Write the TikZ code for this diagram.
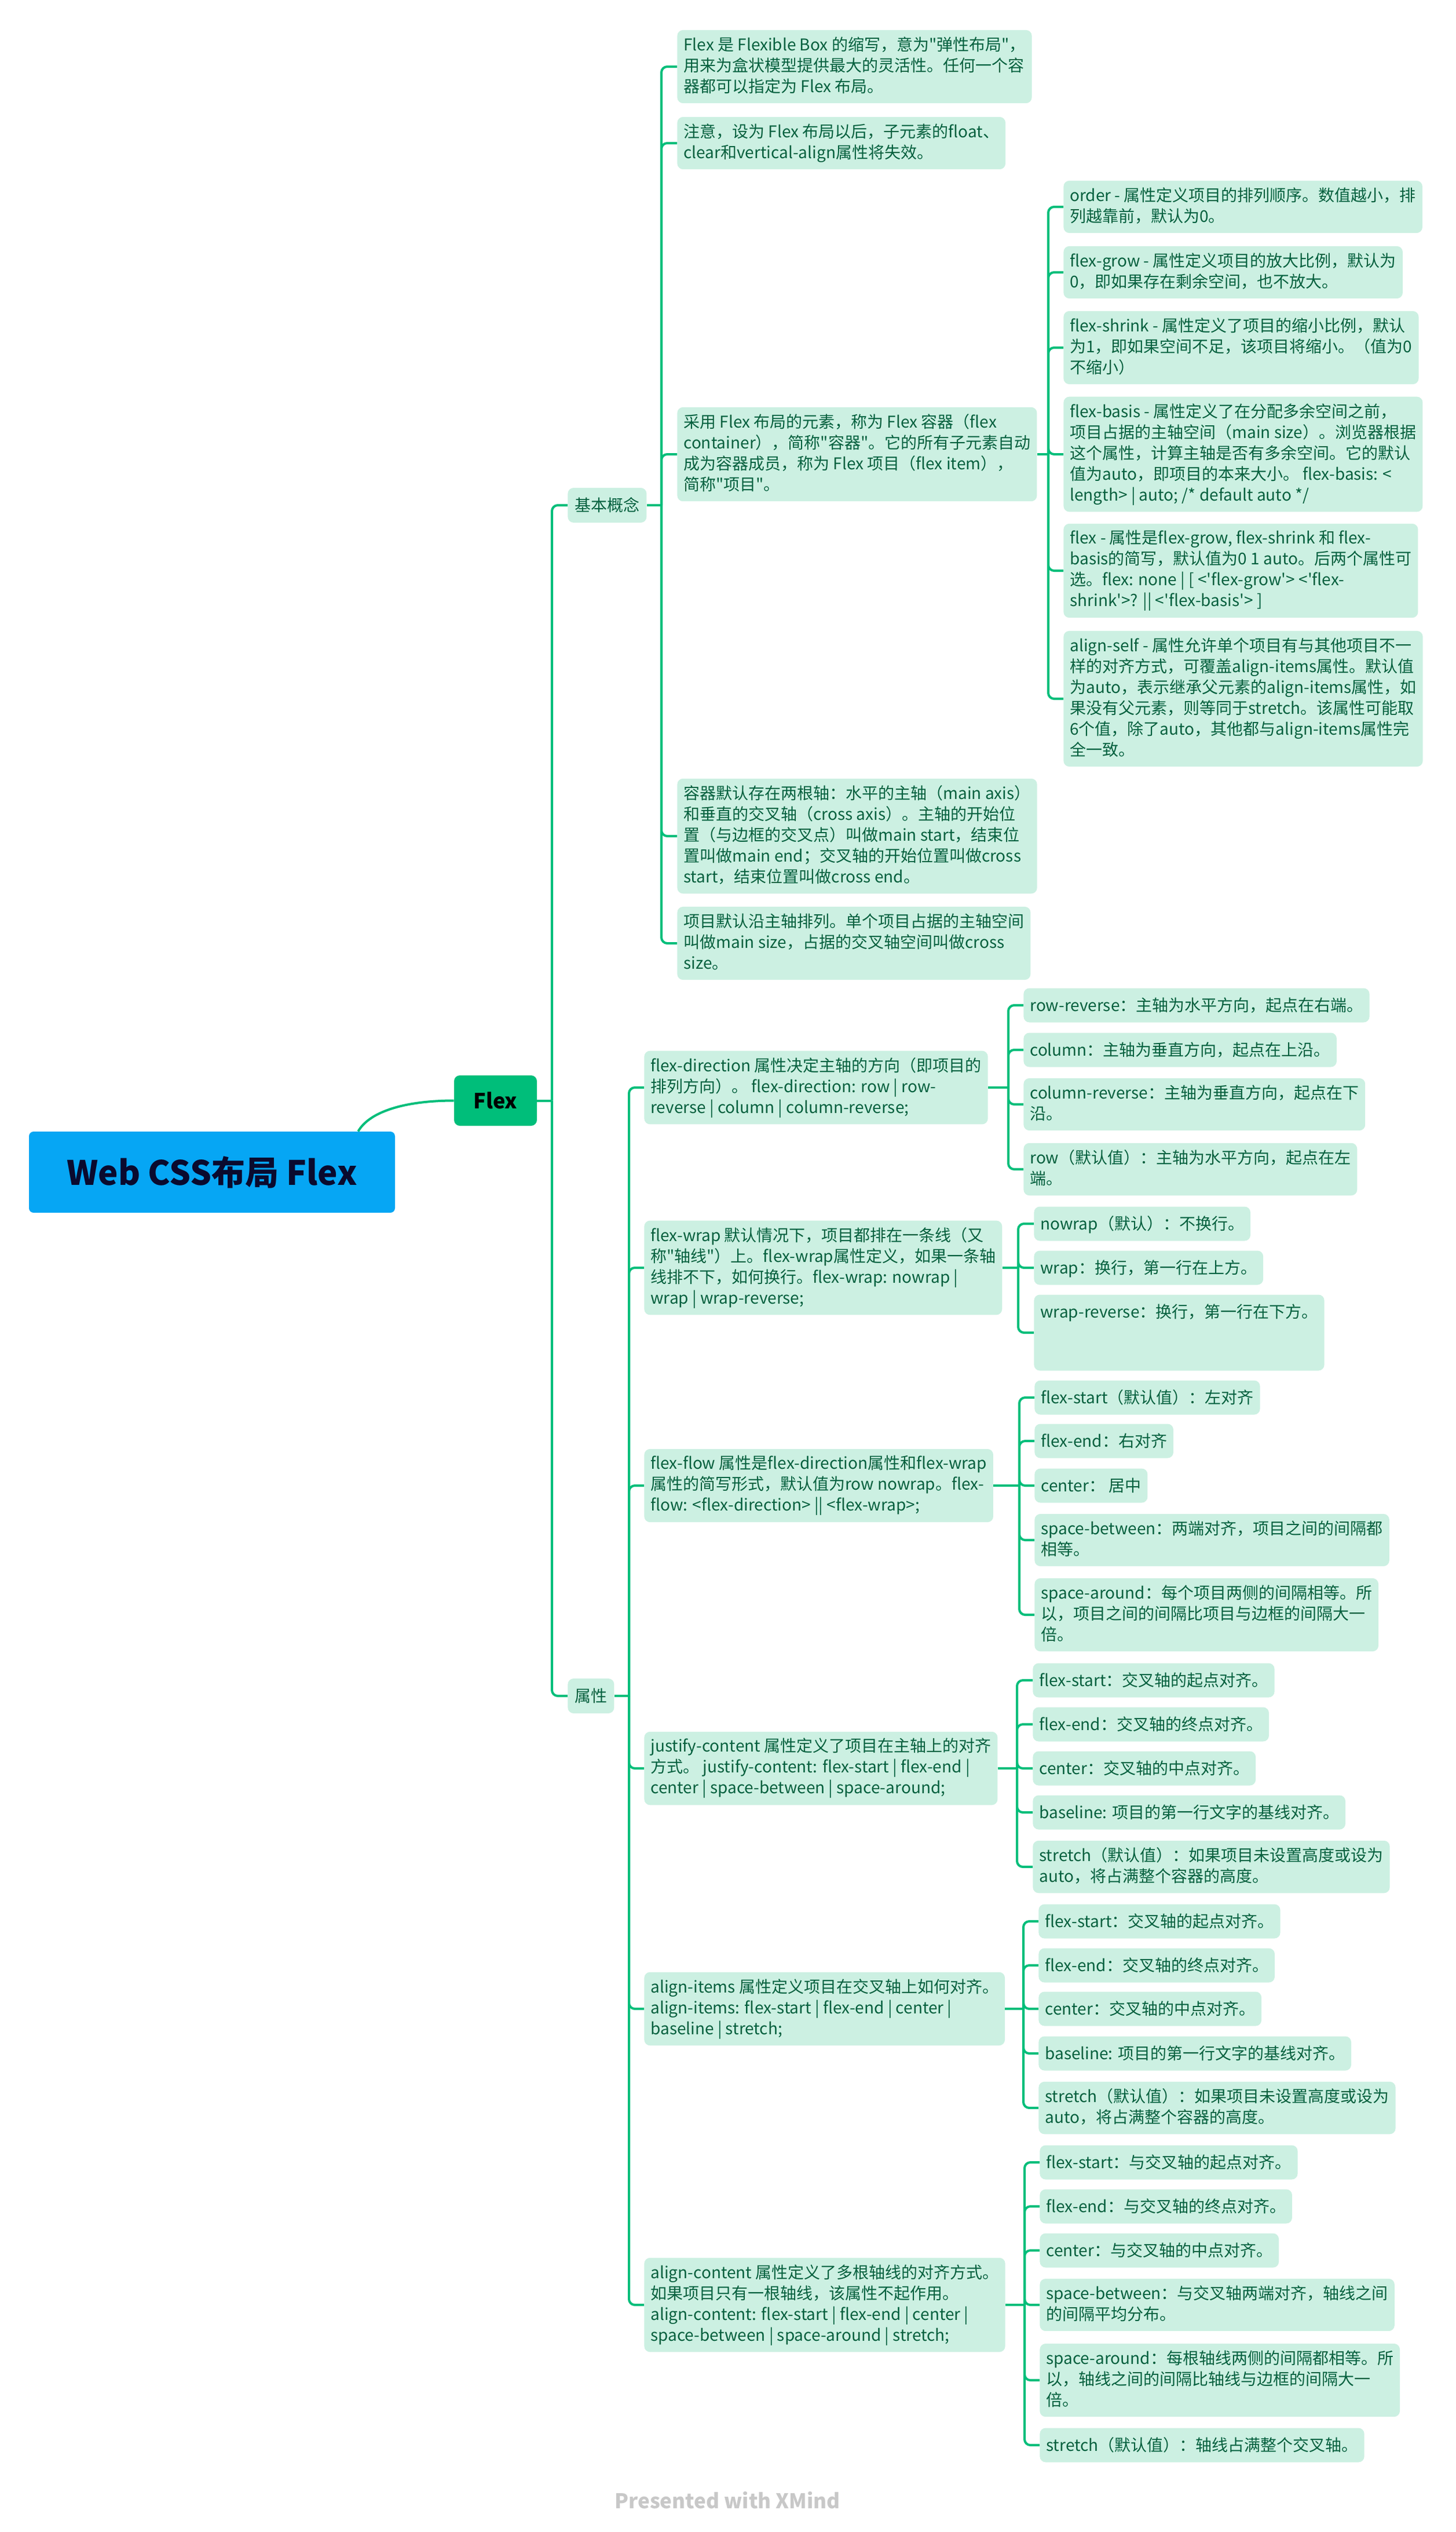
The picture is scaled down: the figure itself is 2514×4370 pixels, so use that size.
\documentclass[tikz,border=0pt]{standalone}
\usepackage{fontspec}
\setmainfont{Noto Sans CJK SC}[Ligatures=TeXOff]

\definecolor{linkgreen}{HTML}{00BE7A}
\definecolor{leaffill}{HTML}{CCF0E2}
\definecolor{leaftext}{HTML}{05603E}
\definecolor{rootblue}{HTML}{06A6F4}
\definecolor{roottext}{HTML}{0A0A2E}
\definecolor{footgray}{HTML}{C8C8C8}

\newcommand{\lstrut}{\rule[-3.75pt]{0pt}{18pt}}

\begin{document}
\begin{tikzpicture}[x=0.5pt, y=-0.5pt,
    link/.style={draw=linkgreen, line width=2pt},
    elbow/.style={link, rounded corners=5pt},
    leaf/.style={fill=leaffill, text=leaftext, rounded corners=5pt, anchor=west, align=left,
        inner xsep=5.5pt, inner ysep=5.75pt, font=\fontsize{14pt}{18pt}\selectfont,
        execute at begin node=\lstrut, execute at end node=\lstrut},
    topic/.style={leaf, inner xsep=6pt, inner ysep=6pt},
]
\useasboundingbox (0,0) rectangle (2514,4370);
\fill[white] (0,0) rectangle (2514,4370);

% Central topic
\node[fill=rootblue, text=roottext, rounded corners=4pt, minimum width=316pt, minimum height=70pt,
    font=\fontsize{29pt}{34pt}\selectfont\bfseries] (root) at (366,2023) {Web CSS布局 Flex};
\node[fill=linkgreen, text=black, rounded corners=5pt, minimum width=71.5pt, minimum height=43.5pt,
    font=\fontsize{18pt}{22pt}\selectfont\bfseries] (flex) at (855.5,1899.5) {Flex};
\node[topic] (basic) at (980,872) {基本概念};
\node[topic] (attr) at (980,2927) {属性};

% Basic concepts
\node[leaf] (intro) at (1169,115) {Flex 是 Flexible Box 的缩写，意为"弹性布局"，\\用来为盒状模型提供最大的灵活性。任何一个容\\器都可以指定为 Flex 布局。};
\node[leaf] (notice) at (1169,247) {注意，设为 Flex 布局以后，子元素的float、\\clear和vertical-align属性将失效。};
\node[leaf] (container) at (1169,784) {采用 Flex 布局的元素，称为 Flex 容器（flex\\container），简称"容器"。它的所有子元素自动\\成为容器成员，称为 Flex 项目（flex item），\\简称"项目"。};
\node[leaf] (axes) at (1169,1443) {容器默认存在两根轴：水平的主轴（main axis）\\和垂直的交叉轴（cross axis）。主轴的开始位\\置（与边框的交叉点）叫做main start，结束位\\置叫做main end；交叉轴的开始位置叫做cross\\start，结束位置叫做cross end。};
\node[leaf] (mainsize) at (1169,1628) {项目默认沿主轴排列。单个项目占据的主轴空间\\叫做main size，占据的交叉轴空间叫做cross\\size。};

% Item properties
\node[leaf] (order) at (1836,357) {order - 属性定义项目的排列顺序。数值越小，排\\列越靠前，默认为0。};
\node[leaf] (grow) at (1836,470) {flex-grow - 属性定义项目的放大比例，默认为\\0，即如果存在剩余空间，也不放大。};
\node[leaf] (shrink) at (1836,600) {flex-shrink - 属性定义了项目的缩小比例，默认\\为1，即如果空间不足，该项目将缩小。（值为0\\不缩小）};
\node[leaf] (basis) at (1836,784) {flex-basis - 属性定义了在分配多余空间之前，\\项目占据的主轴空间（main size）。浏览器根据\\这个属性，计算主轴是否有多余空间。它的默认\\值为auto，即项目的本来大小。 flex-basis: <\\length> | auto; /* default auto */};
\node[leaf] (flexs) at (1836,985) {flex - 属性是flex-grow, flex-shrink 和 flex-\\basis的简写，默认值为0 1 auto。后两个属性可\\选。flex: none | [ <'flex-grow'> <'flex-\\shrink'>? || <'flex-basis'> ]};
\node[leaf] (alignself) at (1836,1206) {align-self - 属性允许单个项目有与其他项目不一\\样的对齐方式，可覆盖align-items属性。默认值\\为auto，表示继承父元素的align-items属性，如\\果没有父元素，则等同于stretch。该属性可能取\\6个值，除了auto，其他都与align-items属性完\\全一致。};

% Container properties
\node[leaf] (direction) at (1112,1877) {flex-direction 属性决定主轴的方向（即项目的\\排列方向）。 flex-direction: row | row-\\reverse | column | column-reverse;};
\node[leaf] (wrapping) at (1112,2188) {flex-wrap 默认情况下，项目都排在一条线（又\\称"轴线"）上。flex-wrap属性定义，如果一条轴\\线排不下，如何换行。flex-wrap: nowrap |\\wrap | wrap-reverse;};
\node[leaf] (flow) at (1112,2564) {flex-flow 属性是flex-direction属性和flex-wrap\\属性的简写形式，默认值为row nowrap。flex-\\flow: <flex-direction> || <flex-wrap>;};
\node[leaf] (justify) at (1112,3052) {justify-content 属性定义了项目在主轴上的对齐\\方式。 justify-content: flex-start | flex-end |\\center | space-between | space-around;};
\node[leaf] (items) at (1112,3467) {align-items 属性定义项目在交叉轴上如何对齐。\\align-items: flex-start | flex-end | center |\\baseline | stretch;};
\node[leaf] (content) at (1112,3978) {align-content 属性定义了多根轴线的对齐方式。\\如果项目只有一根轴线，该属性不起作用。\\align-content: flex-start | flex-end | center |\\space-between | space-around | stretch;};

% flex-direction values
\node[leaf] (rowrev) at (1767,1735) {row-reverse：主轴为水平方向，起点在右端。};
\node[leaf] (column) at (1767,1812) {column：主轴为垂直方向，起点在上沿。};
\node[leaf] (colrev) at (1767,1906) {column-reverse：主轴为垂直方向，起点在下\\沿。};
\node[leaf] (row) at (1767,2018) {row（默认值）：主轴为水平方向，起点在左\\端。};

% flex-wrap values
\node[leaf] (nowrap) at (1785,2112) {nowrap（默认）：不换行。};
\node[leaf] (wrapv) at (1785,2188) {wrap：换行，第一行在上方。};
\node[leaf, text depth=39.75pt] (wraprev) at (1785,2300) {wrap-reverse：换行，第一行在下方。};

% justify-content values (flex-flow)
\node[leaf] (flowA) at (1786,2412) {flex-start（默认值）：左对齐};
\node[leaf] (flowB) at (1786,2487) {flex-end：右对齐};
\node[leaf] (flowC) at (1786,2564) {center： 居中};
\node[leaf] (flowD) at (1786,2658) {space-between：两端对齐，项目之间的间隔都\\相等。};
\node[leaf] (flowE) at (1786,2787) {space-around：每个项目两侧的间隔相等。所\\以，项目之间的间隔比项目与边框的间隔大一\\倍。};

% justify-content values
\node[leaf] (jcA) at (1783,2900) {flex-start：交叉轴的起点对齐。};
\node[leaf] (jcB) at (1783,2976) {flex-end：交叉轴的终点对齐。};
\node[leaf] (jcC) at (1783,3052) {center：交叉轴的中点对齐。};
\node[leaf] (jcD) at (1783,3128) {baseline: 项目的第一行文字的基线对齐。};
\node[leaf] (jcE) at (1783,3222) {stretch（默认值）：如果项目未设置高度或设为\\auto，将占满整个容器的高度。};

% align-items values
\node[leaf] (aiA) at (1793,3316) {flex-start：交叉轴的起点对齐。};
\node[leaf] (aiB) at (1793,3392) {flex-end：交叉轴的终点对齐。};
\node[leaf] (aiC) at (1793,3467) {center：交叉轴的中点对齐。};
\node[leaf] (aiD) at (1793,3544) {baseline: 项目的第一行文字的基线对齐。};
\node[leaf] (aiE) at (1793,3638) {stretch（默认值）：如果项目未设置高度或设为\\auto，将占满整个容器的高度。};

% align-content values
\node[leaf] (acA) at (1795,3732) {flex-start：与交叉轴的起点对齐。};
\node[leaf] (acB) at (1795,3808) {flex-end：与交叉轴的终点对齐。};
\node[leaf] (acC) at (1795,3884) {center：与交叉轴的中点对齐。};
\node[leaf] (acD) at (1795,3978) {space-between：与交叉轴两端对齐，轴线之间\\的间隔平均分布。};
\node[leaf] (acE) at (1795,4108) {space-around：每根轴线两侧的间隔都相等。所\\以，轴线之间的间隔比轴线与边框的间隔大一\\倍。};
\node[leaf] (acF) at (1795,4220) {stretch（默认值）：轴线占满整个交叉轴。};

\node[text=footgray, font=\fontsize{17.5pt}{20pt}\selectfont\bfseries] (credit) at (1256,4315) {Presented with XMind};

% Connectors
\draw[link] ([xshift=-32pt]root.north east) .. controls +(22,-38) and +(-74,0) .. (flex.west);

\coordinate (jFlex) at (953,1899.5);
\coordinate (jBasic) at (1142,872);
\coordinate (jCont) at (1810,784);
\coordinate (jAttr) at (1086,2927);
\coordinate (jDir) at (1741,1877);
\coordinate (jWrap) at (1758,2188);
\coordinate (jFlow) at (1760,2564);
\coordinate (jJust) at (1756,3052);
\coordinate (jItems) at (1767,3467);
\coordinate (jAlign) at (1769,3978);

\draw[link] (flex.east) -- (jFlex);
\foreach \c in {basic,attr} \draw[elbow] (jFlex) |- (\c.west);

\draw[link] (basic.east) -- (jBasic);
\foreach \c in {intro,notice,container,axes,mainsize} \draw[elbow] (jBasic) |- (\c.west);

\draw[link] (container.east) -- (jCont);
\foreach \c in {order,grow,shrink,basis,flexs,alignself} \draw[elbow] (jCont) |- (\c.west);

\draw[link] (attr.east) -- (jAttr);
\foreach \c in {direction,wrapping,flow,justify,items,content} \draw[elbow] (jAttr) |- (\c.west);

\draw[link] (direction.east) -- (jDir);
\foreach \c in {rowrev,column,colrev,row} \draw[elbow] (jDir) |- (\c.west);

\draw[link] (wrapping.east) -- (jWrap);
\foreach \c in {nowrap,wrapv,wraprev} \draw[elbow] (jWrap) |- (\c.west);

\draw[link] (flow.east) -- (jFlow);
\foreach \c in {flowA,flowB,flowC,flowD,flowE} \draw[elbow] (jFlow) |- (\c.west);

\draw[link] (justify.east) -- (jJust);
\foreach \c in {jcA,jcB,jcC,jcD,jcE} \draw[elbow] (jJust) |- (\c.west);

\draw[link] (items.east) -- (jItems);
\foreach \c in {aiA,aiB,aiC,aiD,aiE} \draw[elbow] (jItems) |- (\c.west);

\draw[link] (content.east) -- (jAlign);
\foreach \c in {acA,acB,acC,acD,acE,acF} \draw[elbow] (jAlign) |- (\c.west);

\end{tikzpicture}
\end{document}
